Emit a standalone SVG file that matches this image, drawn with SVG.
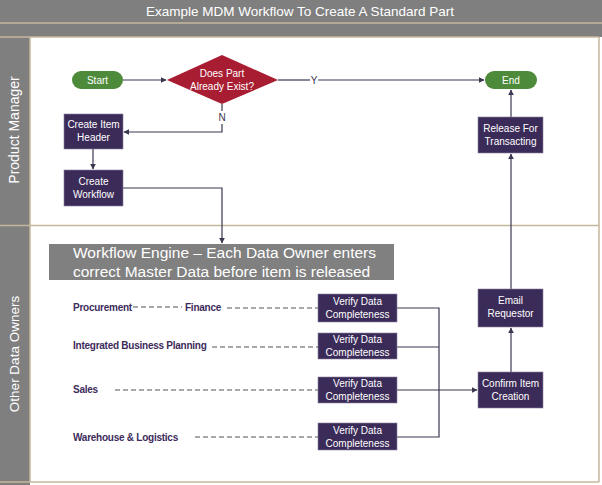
<svg xmlns="http://www.w3.org/2000/svg" width="602" height="485" viewBox="0 0 602 485">
<style>
.t{font-family:"Liberation Sans",Arial,sans-serif;}
.nt{font-family:"Liberation Sans",Arial,sans-serif;font-size:10px;fill:#fff;text-anchor:middle;}
.box{fill:#3b2b58;stroke:#8a7fa0;stroke-width:0.6;}
.pill{fill:#4d8b3b;}
.lbl{font-family:"Liberation Sans",Arial,sans-serif;font-size:10px;font-weight:bold;fill:#3d2b5c;letter-spacing:-0.25px;}
.ln{stroke:#3b3650;stroke-width:1.2;fill:none;}
.dash{stroke:#555;stroke-width:1.1;stroke-dasharray:5,3;fill:none;}
.tan{stroke:#c4b79c;stroke-width:1.5;fill:none;}
</style>
<defs>
<marker id="ah" viewBox="0 0 10 10" refX="9" refY="5" markerWidth="6" markerHeight="6" orient="auto-start-reverse" markerUnits="userSpaceOnUse">
<path d="M0,0 L10,5 L0,10 z" fill="#3b3650"/>
</marker>
</defs>
<rect x="0" y="0" width="602" height="485" fill="#fff"/>
<g id="frame">
<rect x="0" y="0" width="602" height="37" fill="#7f7f7f"/>
<rect x="0" y="37" width="30" height="448" fill="#7f7f7f"/>
<line class="tan" x1="0" y1="23" x2="602" y2="23"/>
<line class="tan" x1="0" y1="37" x2="599" y2="37"/>
<line class="tan" x1="30" y1="37" x2="30" y2="482"/>
<line class="tan" x1="0" y1="225.5" x2="599" y2="225.5"/>
<line class="tan" x1="599" y1="37" x2="599" y2="482"/>
<line class="tan" x1="0" y1="482" x2="599" y2="482"/>
<text class="t" x="300" y="16" font-size="13.5" fill="#fff" text-anchor="middle">Example MDM Workflow To Create A Standard Part</text>
<text class="t" x="19" y="130" font-size="14" fill="#fff" text-anchor="middle" transform="rotate(-90 19 130)">Product Manager</text>
<text class="t" x="19" y="354" font-size="13.5" fill="#fff" text-anchor="middle" transform="rotate(-90 19 354)">Other Data Owners</text>
</g>
<g id="connectors">
<line class="ln" x1="123" y1="80" x2="166" y2="80" marker-end="url(#ah)"/>
<line class="ln" x1="278" y1="80" x2="310" y2="80"/>
<line class="ln" x1="318" y1="80" x2="484" y2="80" marker-end="url(#ah)"/>
<text class="t" x="314" y="83.5" font-size="10" fill="#3b3650" text-anchor="middle">Y</text>
<line class="ln" x1="222" y1="104" x2="222" y2="111"/>
<text class="t" x="222" y="121" font-size="10" fill="#3b3650" text-anchor="middle">N</text>
<polyline class="ln" points="222,124 222,132 124,132" marker-end="url(#ah)"/>
<line class="ln" x1="93" y1="149" x2="93" y2="169" marker-end="url(#ah)"/>
<polyline class="ln" points="123,188 222,188 222,243" marker-end="url(#ah)"/>
<line class="ln" x1="511" y1="117" x2="511" y2="90" marker-end="url(#ah)"/>
<line class="ln" x1="511" y1="289" x2="511" y2="154" marker-end="url(#ah)"/>
<line class="ln" x1="511" y1="372" x2="511" y2="328" marker-end="url(#ah)"/>
<polyline class="ln" points="397,308 439,308 439,437 397,437"/>
<line class="ln" x1="397" y1="347" x2="439" y2="347"/>
<line class="ln" x1="397" y1="390" x2="477" y2="390" marker-end="url(#ah)"/>
<line class="dash" x1="133" y1="307" x2="182" y2="307"/>
<line class="dash" x1="227" y1="308" x2="318" y2="308"/>
<line class="dash" x1="212" y1="347" x2="318" y2="347"/>
<line class="dash" x1="115" y1="390" x2="318" y2="390"/>
<line class="dash" x1="195" y1="437" x2="318" y2="437"/>
</g>
<g id="start">
<rect class="pill" x="72" y="71" width="51" height="18" rx="9"/>
<text class="nt" x="97.5" y="83.5">Start</text>
</g>
<g id="decision">
<polygon points="167,80 222,55 278,80 222,104" fill="#a81d32"/>
<text class="nt" x="222" y="77">Does Part</text>
<text class="nt" x="222" y="90">Already Exist?</text>
</g>
<g id="end">
<rect class="pill" x="485" y="71" width="52" height="18" rx="9"/>
<text class="nt" x="511" y="83.5">End</text>
</g>
<g id="create-item-header">
<rect class="box" x="64" y="114" width="59" height="35"/>
<text class="nt" x="93.5" y="128">Create Item</text>
<text class="nt" x="93.5" y="141">Header</text>
</g>
<g id="create-workflow">
<rect class="box" x="64" y="170" width="59" height="36"/>
<text class="nt" x="93.5" y="185">Create</text>
<text class="nt" x="93.5" y="198">Workflow</text>
</g>
<g id="release">
<rect class="box" x="478" y="117" width="65" height="36"/>
<text class="nt" x="510.5" y="131.5">Release For</text>
<text class="nt" x="510.5" y="144.5">Transacting</text>
</g>
<g id="workflow-engine">
<rect x="49" y="244" width="345" height="36" fill="#808080"/>
<text class="t" x="73" y="258" font-size="15.5" fill="#fff">Workflow Engine – Each Data Owner enters</text>
<text class="t" x="73" y="277" font-size="15.5" fill="#fff">correct Master Data before item is released</text>
</g>
<g id="email">
<rect class="box" x="478" y="289" width="65" height="38"/>
<text class="nt" x="510.5" y="304">Email</text>
<text class="nt" x="510.5" y="317">Requestor</text>
</g>
<g id="confirm">
<rect class="box" x="478" y="372" width="65" height="36"/>
<text class="nt" x="510.5" y="386.5">Confirm Item</text>
<text class="nt" x="510.5" y="399.5">Creation</text>
</g>
<g id="verify1">
<rect class="box" x="318" y="294" width="79" height="28"/>
<text class="nt" x="357.5" y="305">Verify Data</text>
<text class="nt" x="357.5" y="317.5">Completeness</text>
</g>
<g id="verify2">
<rect class="box" x="318" y="333" width="79" height="26"/>
<text class="nt" x="357.5" y="343">Verify Data</text>
<text class="nt" x="357.5" y="355.5">Completeness</text>
</g>
<g id="verify3">
<rect class="box" x="318" y="377" width="79" height="26"/>
<text class="nt" x="357.5" y="387">Verify Data</text>
<text class="nt" x="357.5" y="399.5">Completeness</text>
</g>
<g id="verify4">
<rect class="box" x="318" y="423" width="79" height="27"/>
<text class="nt" x="357.5" y="433.5">Verify Data</text>
<text class="nt" x="357.5" y="446.5">Completeness</text>
</g>
<g id="owners">
<text class="lbl" x="73" y="310.5">Procurement</text>
<text class="lbl" x="185" y="310.5">Finance</text>
<text class="lbl" x="73" y="348.5">Integrated Business Planning</text>
<text class="lbl" x="73" y="393">Sales</text>
<text class="lbl" x="73" y="440.5">Warehouse &amp; Logistics</text>
</g>
</svg>
